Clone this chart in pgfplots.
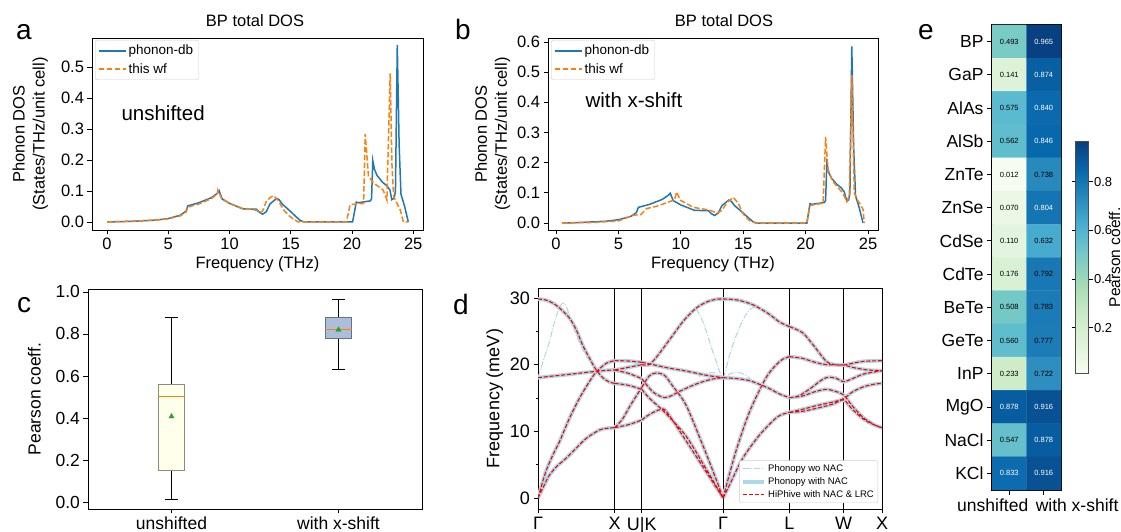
\documentclass[border=0pt]{standalone}
\usepackage{pgfplots}
\pgfplotsset{compat=1.18}
\usepackage{pgfplotstable}
\usepgfplotslibrary{statistics}
\usepackage{fontspec}
\setmainfont{Liberation Sans}

\definecolor{mblue}{HTML}{1F77B4}
\definecolor{morange}{HTML}{FF7F0E}
\definecolor{mgreen}{HTML}{2CA02C}
\definecolor{lblue}{HTML}{ADD8E6}
\definecolor{boxA}{RGB}{255,255,236}
\definecolor{boxAedge}{RGB}{140,140,124}
\definecolor{boxB}{RGB}{172,190,218}
\definecolor{boxBedge}{RGB}{100,116,135}

% DOS, panel a (unshifted)
\pgfplotstableread{
f d
0 0.000
2 0.002
4 0.006
5 0.011
6 0.022
6.45 0.035
6.6 0.052
7.5 0.062
8.5 0.078
9.0 0.092
9.15 0.101
9.4 0.074
10.0 0.060
11.1 0.042
12.2 0.041
12.45 0.031
12.7 0.025
13.0 0.033
13.3 0.058
13.6 0.068
13.85 0.076
14.05 0.072
14.3 0.058
14.95 0.035
15.4 0.018
15.8 0.004
16.1 0.000
20.05 0.000
20.35 0.064
20.5 0.062
21.5 0.068
21.6 0.075
21.7 0.198
21.85 0.168
22.05 0.150
22.5 0.128
22.85 0.117
23.1 0.103
23.25 0.072
23.45 0.077
23.55 0.100
23.7 0.571
23.85 0.250
24.0 0.090
24.3 0.050
24.6 0.000
}\dbA
\pgfplotstableread{
f d
0 0.000
2 0.002
4 0.006
5 0.010
6 0.020
6.45 0.032
6.6 0.048
7.5 0.058
8.5 0.075
9.0 0.090
9.05 0.103
9.35 0.076
10.0 0.060
11.1 0.043
12.2 0.038
12.45 0.030
12.7 0.035
13.0 0.066
13.3 0.078
13.6 0.085
14.0 0.068
14.4 0.040
14.8 0.022
15.2 0.010
15.6 0.000
19.55 0.000
19.85 0.056
20.95 0.060
21.08 0.284
21.35 0.146
21.8 0.125
22.55 0.103
22.85 0.071
23.12 0.480
23.26 0.190
23.4 0.082
23.94 0.039
24.2 0.000
24.6 0.000
}\wfA
% DOS, panel b (with x-shift)
\pgfplotstableread{
f d
0.5 0.000
2 0.002
4 0.006
5 0.011
6 0.022
6.45 0.035
6.6 0.052
7.5 0.062
8.5 0.078
9.0 0.092
9.15 0.099
9.4 0.074
10.0 0.060
11.1 0.042
12.2 0.041
12.45 0.031
12.7 0.025
13.0 0.033
13.3 0.058
13.6 0.068
13.85 0.076
14.05 0.072
14.3 0.058
14.95 0.035
15.4 0.018
15.8 0.004
16.1 0.000
20.1 0.000
20.35 0.064
20.5 0.062
21.5 0.068
21.6 0.075
21.7 0.198
21.85 0.168
22.05 0.150
22.5 0.128
22.85 0.117
23.1 0.103
23.3 0.072
23.45 0.077
23.55 0.100
23.7 0.585
23.85 0.250
24.0 0.090
24.3 0.050
24.6 0.000
}\dbB
\pgfplotstableread{
f d
0.5 0.000
3 0.002
5 0.007
6.2 0.026
6.8 0.028
7.25 0.048
8.0 0.055
9.13 0.071
9.5 0.078
9.67 0.103
9.95 0.076
11.0 0.052
12.3 0.043
12.9 0.033
13.3 0.042
13.7 0.068
14.2 0.085
14.6 0.066
15.0 0.030
15.5 0.008
16.0 0.000
20.1 0.000
20.35 0.058
21.4 0.066
21.6 0.285
21.8 0.175
22.2 0.137
23.0 0.098
23.3 0.071
23.5 0.090
23.7 0.490
23.9 0.100
24.1 0.080
24.4 0.060
24.6 0.045
24.7 0.000
}\wfB

% phonon bands along G-X-U|K-G-L-W-X (meV), same for Phonopy+NAC and HiPhive
\pgfplotstableread{
k e
0 29.85
0.1 29.7
0.2 29.2
0.3 28.3
0.41 27.0
0.5 25.2
0.58 23.0
0.67 21.0
0.76 19.2
0.85 18.0
0.93 17.4
1.0 17.2
nan nan
0 18.05
0.2 18.3
0.41 18.55
0.6 18.8
0.76 19.0
0.9 19.15
1.0 19.2
nan nan
0 0
0.1 3.9
0.2 6.6
0.28 8.45
0.41 11.95
0.54 14.95
0.67 17.45
0.76 18.9
0.89 20.2
1.0 20.6
nan nan
0 0
0.08 1.9
0.15 3.45
0.25 4.8
0.365 5.95
0.5 7.5
0.63 8.95
0.8 10.2
0.9 10.45
1.0 10.55
nan nan
1.0 20.6
1.18 20.55
1.3536 20.35
nan nan
1.0 19.2
1.18 19.6
1.3536 20.0
nan nan
1.0 19.2
1.18 18.7
1.3536 17.9
nan nan
1.0 17.2
1.18 16.9
1.3536 16.3
nan nan
1.0 10.55
1.1 11.8
1.2 13.8
1.3536 16.6
nan nan
1.0 10.55
1.18 11.0
1.3536 11.7
nan nan
1.3536 20.0
1.45 20.0
1.55 21.2
1.713 23.7
1.9 26.6
2.06 28.45
2.2 29.4
2.32 29.8
2.4142 29.85
nan nan
1.3536 20.35
1.5 20.0
1.7 19.5
1.93 19.05
2.2 18.4
2.4142 18.05
nan nan
1.3536 17.9
1.5 15.9
1.648 15.05
1.75 15.4
1.84 15.95
2.0 16.8
2.15 17.45
2.3 17.9
2.4142 18.05
nan nan
1.3536 16.6
1.45 18.3
1.54 18.75
1.65 18.4
1.75 16.9
1.93 13.95
2.15 7.9
2.3 3.5
2.4142 0
nan nan
1.3536 16.3
1.45 15.0
1.6 13.45
1.7 12.3
1.93 9.3
2.15 5.2
2.4142 0
nan nan
1.3536 11.7
1.45 12.5
1.6 13.3
1.68 12.9
1.93 8.6
2.15 4.7
2.4142 0
nan nan
2.4142 29.85
2.6 29.7
2.8 29.0
3.0 27.7
3.15 26.4
3.2802 25.7
nan nan
2.4142 18.05
2.6 17.9
2.76 17.6
2.9 17.0
3.02 16.4
3.15 15.6
3.2802 15.05
nan nan
2.4142 0
2.58 6.95
2.76 12.95
2.97 17.95
3.1 19.9
3.19 20.8
3.2802 21.2
nan nan
2.4142 0
2.5 2.0
2.67 5.95
2.89 9.45
3.1 11.95
3.2 12.6
3.2802 12.85
nan nan
3.2802 25.7
3.45 24.8
3.6 22.8
3.76 20.5
3.87 20.0
3.9873 19.95
4.1 20.2
4.25 20.5
4.4873 20.6
nan nan
3.2802 21.2
3.45 20.95
3.6 20.4
3.76 20.0
3.9873 19.95
4.1 19.6
4.3 19.2
4.4873 19.1
nan nan
3.2802 15.05
3.4 15.3
3.55 16.4
3.7 17.7
3.78 18.1
3.88 18.0
3.9873 17.45
4.1 17.9
4.25 18.6
4.4873 19.1
nan nan
3.2802 15.05
3.45 15.3
3.6 15.9
3.75 16.3
3.85 16.1
3.9873 15.45
4.1 13.8
4.25 12.0
4.4 10.9
4.4873 10.55
nan nan
3.2802 12.85
3.45 13.3
3.65 13.9
3.85 14.4
3.9873 14.9
4.1 15.9
4.25 16.7
4.4 17.1
4.4873 17.2
nan nan
3.2802 12.85
3.45 13.0
3.65 13.5
3.85 14.1
3.9873 14.7
4.1 13.3
4.25 11.8
4.4 10.9
4.4873 10.55
}\bands
% Phonopy without NAC, where it differs from the NAC bands
\pgfplotstableread{
k e
0 18.05
0.08 21.0
0.15 23.5
0.22 26.6
0.28 28.6
0.32 29.2
0.36 29.0
0.42 27.0
0.5 24.4
0.58 22.3
0.67 20.6
0.76 19.2
nan nan
2.06 28.45
2.15 26.5
2.25 23.0
2.33 20.3
2.4142 18.05
2.5 21.5
2.6 24.8
2.7 27.3
2.78 28.4
2.86 28.75
nan nan
2.1 18.2
2.2 18.7
2.3 18.8
2.4142 18.05
2.5 18.6
2.6 18.85
2.7 18.5
2.8 17.6
}\woNAC

% Pearson coefficients (col 0: unshifted, col 1: with x-shift)
\pgfplotstableread{
x y c
0 0 0.493
1 0 0.965
0 1 0.141
1 1 0.874
0 2 0.575
1 2 0.840
0 3 0.562
1 3 0.846
0 4 0.012
1 4 0.738
0 5 0.070
1 5 0.804
0 6 0.110
1 6 0.632
0 7 0.176
1 7 0.792
0 8 0.508
1 8 0.783
0 9 0.560
1 9 0.777
0 10 0.233
1 10 0.722
0 11 0.878
1 11 0.916
0 12 0.547
1 12 0.878
0 13 0.833
1 13 0.916
}\heat

\tikzset{fs/.style={font=\fontsize{#1}{#1}\selectfont}}
\pgfplotsset{
  panel/.style={scale only axis, tick align=outside,
    xtick pos=bottom, ytick pos=left, axis line style={line width=0.8pt},
    tick style={black, line width=0.8pt}, major tick length=4.5pt, minor tick length=2.5pt,
    /pgf/number format/assume math mode=true},
}

\begin{document}
\begin{tikzpicture}
\path[use as bounding box] (0pt,0pt) rectangle (1121pt,532pt);

% ---- a ----  box x 92..423, y(px) 38..230
\begin{axis}[panel, anchor=center, at={(257.5pt,398pt)}, width=331pt, height=192pt,
  xmin=-1.23, xmax=25.8, ymin=-0.026, ymax=0.594,
  xtick={0,5,10,15,20,25}, ytick={0,0.1,0.2,0.3,0.4,0.5},
  yticklabel style={/pgf/number format/.cd, fixed, fixed zerofill, precision=1},
  ticklabel style={fs=16.5}, label style={fs=16.5},
  xlabel={Frequency (THz)}, ylabel={Phonon DOS\\(States/THz/unit cell)},
  ylabel style={align=center, font=\fontsize{16.5}{20}\selectfont, yshift=6pt},
  legend style={at={(0,1)}, anchor=north west, xshift=3pt, yshift=-2pt, draw=black!20,
    rounded corners=2pt, fs=13.5, row sep=3pt, inner sep=3pt},
  legend cell align=left,
  legend image code/.code={\draw[#1] (0pt,0pt) -- (27pt,0pt);}]
\addplot[mblue, line width=1.5pt] table[x=f, y=d] {\dbA};
\addlegendentry{phonon-db}
\addplot[morange, line width=1.5pt, dash pattern=on 5.5pt off 2.4pt] table[x=f, y=d] {\wfA};
\addlegendentry{this wf}
\end{axis}

% ---- b ----  box x 548..878, y(px) 38..230
\begin{axis}[panel, anchor=center, at={(713pt,398pt)}, width=330pt, height=192pt,
  xmin=-0.64, xmax=25.8, ymin=-0.023, ymax=0.613,
  xtick={0,5,10,15,20,25}, ytick={0,0.1,0.2,0.3,0.4,0.5,0.6},
  yticklabel style={/pgf/number format/.cd, fixed, fixed zerofill, precision=1},
  ticklabel style={fs=16.5}, label style={fs=16.5},
  xlabel={Frequency (THz)}, ylabel={Phonon DOS\\(States/THz/unit cell)},
  ylabel style={align=center, font=\fontsize{16.5}{20}\selectfont},
  legend style={at={(0,1)}, anchor=north west, xshift=3pt, yshift=-2pt, draw=black!20,
    rounded corners=2pt, fs=13.5, row sep=3pt, inner sep=3pt},
  legend cell align=left,
  legend image code/.code={\draw[#1] (0pt,0pt) -- (27pt,0pt);}]
\addplot[mblue, line width=1.5pt] table[x=f, y=d] {\dbB};
\addlegendentry{phonon-db}
\addplot[morange, line width=1.5pt, dash pattern=on 5.5pt off 2.4pt] table[x=f, y=d] {\wfB};
\addlegendentry{this wf}
\end{axis}

% ---- c ----  box x 88..422, y(px) 289..509
\begin{axis}[panel, anchor=center, at={(255pt,133pt)}, width=334pt, height=220pt,
  xmin=0.5, xmax=2.5, ymin=-0.033, ymax=1.014,
  xtick={1,2}, xticklabels={unshifted, with x-shift},
  ytick={0,0.2,0.4,0.6,0.8,1.0},
  yticklabel style={/pgf/number format/.cd, fixed, fixed zerofill, precision=1},
  ticklabel style={fs=17.5}, label style={fs=17.5},
  ylabel={Pearson coeff.}, ylabel style={yshift=8pt},
  boxplot/draw direction=y]
\addplot[draw=boxAedge, line width=0.9pt, boxplot prepared={draw position=1,
  lower whisker=0.012, lower quartile=0.150, median=0.5005,
  upper quartile=0.5615, upper whisker=0.878, box extend=0.156, whisker extend=0.072,
  every box/.append style={fill=boxA},
  every median/.style={draw=morange, line width=0.9pt},
  every whisker/.style={draw=black, line width=0.9pt}}] coordinates {};
\addplot[draw=boxBedge, line width=0.9pt, boxplot prepared={draw position=2,
  lower whisker=0.632, lower quartile=0.7785, median=0.822,
  upper quartile=0.877, upper whisker=0.965, box extend=0.156, whisker extend=0.072,
  every box/.append style={fill=boxB},
  every median/.style={draw=morange, line width=0.9pt},
  every whisker/.style={draw=black, line width=0.9pt}}] coordinates {};
\addplot[only marks, mark=triangle*, mark size=3pt, color=mgreen] coordinates {(1,0.407) (2,0.820)};
\end{axis}

% ---- d ----  box x 538..882, y(px) 288..509
\begin{axis}[panel, anchor=center, at={(710pt,133.5pt)}, width=344pt, height=221pt,
  xmin=0, xmax=4.4873, ymin=-1.65, ymax=31.5,
  xtick={0,1,1.3536,2.4142,3.2802,3.9873,4.4873},
  xticklabels={Γ,X,U|K,Γ,L,W,X},
  ytick={0,10,20,30}, minor ytick={5,15,25},
  xmajorgrids=true, major grid style={black, line width=0.9pt},
  ticklabel style={fs=18}, label style={fs=18},
  ylabel={Frequency (meV)},
  unbounded coords=jump,
  legend style={at={(1,0)}, anchor=south east, xshift=-4pt, yshift=6pt, draw=black!20,
    rounded corners=2pt, fs=9.5, row sep=0.5pt, inner sep=2pt},
  legend cell align=left,
  legend image code/.code={\draw[#1] (0pt,0pt) -- (21pt,0pt);}]
\addplot[lblue, line width=1pt, dash pattern=on 6.4pt off 1.6pt on 1pt off 1.6pt, smooth, tension=0.5] table[x=k, y=e] {\woNAC};
\addlegendentry{Phonopy wo NAC}
\addplot[lblue, line width=3.8pt, smooth, tension=0.5] table[x=k, y=e] {\bands};
\addlegendentry{Phonopy with NAC}
\addplot[red, line width=1.1pt, dash pattern=on 4pt off 1.8pt, smooth, tension=0.5] table[x=k, y=e] {\bands};
\addlegendentry{HiPhive with NAC \& LRC}
\end{axis}

% ---- e ----  box x 992..1061, y(px) 25..490
\begin{axis}[panel, anchor=center, at={(1026.5pt,274.5pt)}, width=69pt, height=465pt,
  xmin=-0.5, xmax=1.5, ymin=-0.5, ymax=13.5, y dir=reverse,
  xtick={0,1}, ytick={0,...,13},
  xticklabels={\makebox[0pt][r]{unshifted\kern-19pt}, \makebox[0pt][l]{\kern-8pt with x-shift}},
  yticklabels={BP,GaP,AlAs,AlSb,ZnTe,ZnSe,CdSe,CdTe,BeTe,GeTe,InP,MgO,NaCl,KCl},
  ticklabel style={fs=17.5}, axis line style={line width=1.8pt},
  major tick length=5pt,
  colormap={GnBu}{rgb255=(247,252,240) rgb255=(224,243,219) rgb255=(204,235,197)
    rgb255=(168,221,181) rgb255=(123,204,196) rgb255=(78,179,211) rgb255=(43,140,190)
    rgb255=(8,104,172) rgb255=(8,64,129)},
  point meta min=0.012, point meta max=0.965,
  colorbar,
  colorbar style={scale only axis, width=13pt, height=232pt,
    at={(parent axis.east)}, anchor=west, xshift=6pt,
    ytick={0.2,0.4,0.6,0.8}, tick align=outside, major tick length=4pt,
    tick style={black, line width=0.8pt},
    axis line style={draw=black!70, line width=0.6pt},
    yticklabel style={fs=13, xshift=-2pt, /pgf/number format/.cd, fixed, fixed zerofill, precision=1, assume math mode=true},
    ylabel={Pearson coeff.}, ylabel style={fs=15.5, yshift=10pt}}]
\addplot[matrix plot*, mesh/cols=2, mesh/rows=14, point meta=explicit] table[x=x, y=y, meta=c] {\heat};
\addplot[only marks, mark=*, mark size=0pt, point meta=explicit symbolic,
  nodes near coords={\ifdim\pgfplotspointmeta pt>0.8pt\relax\color{white}\fi\pgfplotspointmeta},
  every node near coord/.style={fs=7.5, anchor=center, text=black}] table[x=x, y=y, meta=c] {\heat};
\end{axis}

% titles, panel letters, annotations
\node[fs=16.5, anchor=base] at (255pt,505pt) {BP total DOS};
\node[fs=16.5, anchor=base] at (724pt,505pt) {BP total DOS};
\node[fs=20.5, anchor=base west] at (118pt,411pt) {unshifted};
\node[fs=20.5, anchor=base west] at (582pt,424pt) {with x-shift};
\node[fs=28, anchor=base] at (24pt,492pt) {a};
\node[fs=28, anchor=base] at (463pt,492pt) {b};
\node[fs=28, anchor=base] at (24pt,219pt) {c};
\node[fs=28, anchor=base] at (461pt,217pt) {d};
\node[fs=28, anchor=base] at (926pt,492pt) {e};
\end{tikzpicture}
\end{document}
